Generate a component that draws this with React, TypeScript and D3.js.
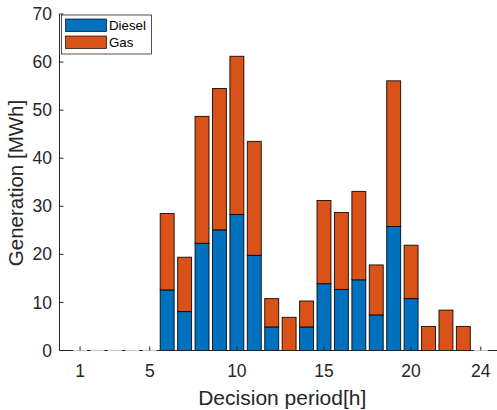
import React from "react";
import * as d3 from "d3";

const periods = d3.range(1, 25);
const diesel = [0, 0, 0, 0, 0, 12.6, 8.1, 22.3, 25.1, 28.3, 19.8, 4.9, 0, 4.9, 13.9, 12.7, 14.7, 7.4, 25.8, 10.8, 0, 0, 0, 0];
const gas = [0, 0, 0, 0, 0, 15.9, 11.3, 26.4, 29.4, 32.9, 23.7, 5.9, 6.9, 5.4, 17.3, 16.0, 18.4, 10.4, 30.3, 11.1, 5.0, 8.4, 5.0, 0];
const xTicks = [1, 5, 10, 15, 20, 24];
const yTicks = [0, 10, 20, 30, 40, 50, 60, 70];
const seriesNames = ["Diesel", "Gas"];
const colors = ["#0072BD", "#D95319"];

const W = 497;
const H = 410;
const left = 59.5;
const right = 497;
const top = 14;
const bottom = 350.5;
const font = "'Liberation Sans', Arial, Helvetica, sans-serif";
const axisColor = "#262626";

export default function App() {
  const x = d3.scaleLinear().domain([-0.18, 24.93]).range([left, right]);
  const y = d3.scaleLinear().domain([0, 70]).range([bottom, top]);
  const bw = (x(1) - x(0)) * 0.8;

  const rows = periods.map((p, i) => ({ p, Diesel: diesel[i], Gas: gas[i] }));
  const stacked = d3.stack<any>().keys(seriesNames)(rows);
  const total = periods.map((_, i) => diesel[i] + gas[i]);

  return (
    <svg width={W} height={H} style={{ position: "absolute", left: 0, top: 0, background: "#fff" }}>
      {stacked.map((s, si) =>
        s.map((d, i) =>
          d[1] - d[0] > 0 ? (
            <rect
              key={`${si}-${i}`}
              x={x(periods[i]) - bw / 2}
              y={y(d[1])}
              width={bw}
              height={y(d[0]) - y(d[1])}
              fill={colors[si]}
              stroke="#000"
              strokeWidth={1}
              strokeOpacity={0.85}
            />
          ) : null
        )
      )}
      {/* axes */}
      <line x1={left} x2={right} y1={bottom} y2={bottom} stroke={axisColor} strokeWidth={1} />
      <line x1={left} x2={left} y1={top} y2={bottom} stroke={axisColor} strokeWidth={1} />
      {/* empty periods: zero-height bars leave only their edge on the baseline */}
      {periods.map((p, i) =>
        total[i] === 0 ? (
          <line
            key={`z${p}`}
            x1={x(p) - bw / 2}
            x2={x(p) + bw / 2}
            y1={bottom}
            y2={bottom}
            stroke="#c8c8c8"
            strokeWidth={1.2}
          />
        ) : null
      )}
      {xTicks.map((t) => (
        <g key={`xt${t}`}>
          <line x1={x(t)} x2={x(t)} y1={bottom} y2={bottom - 4} stroke={axisColor} />
          <text x={x(t)} y={377} textAnchor="middle" fontFamily={font} fontSize={17.5} fill={axisColor}>
            {t}
          </text>
        </g>
      ))}
      {yTicks.map((t) => (
        <g key={`yt${t}`}>
          <line x1={left} x2={left + 4} y1={y(t)} y2={y(t)} stroke={axisColor} />
          <text x={52} y={y(t)} dy="0.35em" textAnchor="end" fontFamily={font} fontSize={17.5} fill={axisColor}>
            {t}
          </text>
        </g>
      ))}
      <text x={(left + right) / 2 + 4} y={405} textAnchor="middle" fontFamily={font} fontSize={21} fill={axisColor}>
        Decision period[h]
      </text>
      <text
        transform={`translate(23, 183) rotate(-90)`}
        textAnchor="middle"
        fontFamily={font}
        fontSize={20.5}
        fill={axisColor}
      >
        Generation [MWh]
      </text>
      {/* legend */}
      <g>
        <rect x={61.5} y={15} width={90} height={39} fill="#fff" stroke={axisColor} strokeWidth={0.8} />
        {seriesNames.map((n, i) => (
          <g key={n}>
            <rect x={65.5} y={19 + i * 17} width={41} height={12.5} fill={colors[i]} stroke="#000" strokeWidth={0.8} strokeOpacity={0.85} />
            <text x={109} y={25.3 + i * 17.4} dy="0.35em" fontFamily={font} fontSize={13.3} fill="#000">
              {n}
            </text>
          </g>
        ))}
      </g>
    </svg>
  );
}
